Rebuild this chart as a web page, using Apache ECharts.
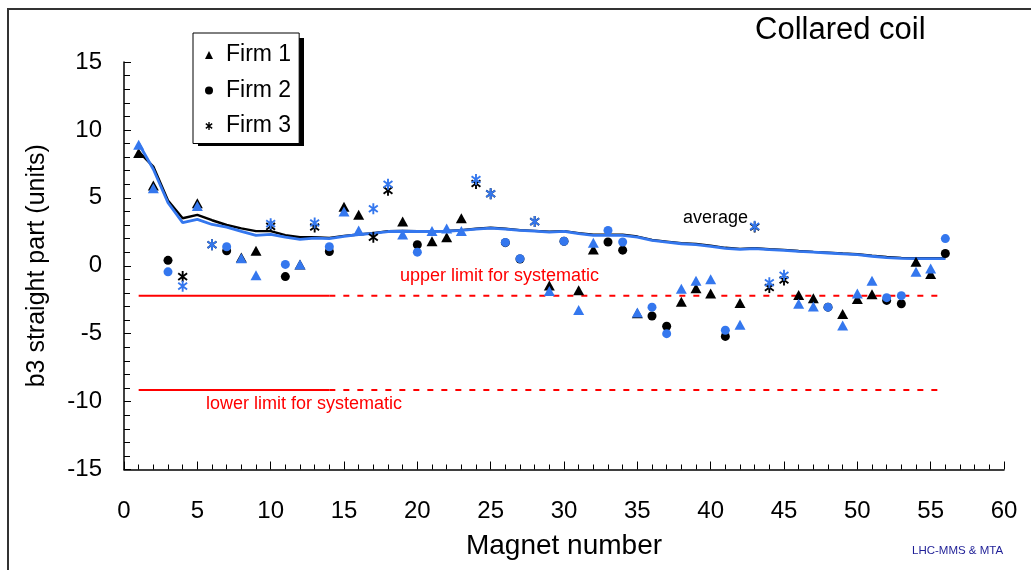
<!DOCTYPE html>
<html>
<head>
<meta charset="utf-8">
<style>
  html, body { margin: 0; padding: 0; background: #fff; }
  #chart { width: 1031px; height: 570px; }
</style>
<script src="https://cdn.jsdelivr.net/npm/echarts@6/dist/echarts.min.js"></script>
</head>
<body>
<div id="chart"></div>
<script>
// Magnet numbers 1..56 and the firm that built each one (1, 2 or 3)
const magnets = Array.from({ length: 56 }, (_, i) => i + 1);
const firmOf = [
  1, 1, 2, 3, 1, 3, 2, 1, 1, 3,
  2, 1, 3, 2, 1, 1, 3, 3, 1, 2,
  1, 1, 1, 3, 3, 2, 2, 3, 1, 2,
  1, 1, 2, 2, 1, 2, 2, 1, 1, 1,
  2, 1, 3, 3, 3, 1, 1, 2, 1, 1,
  1, 2, 2, 1, 1, 2
];

// b3 in the straight part (units), first measurement (black markers)
const b3Black = [
  8.3, 5.9, 0.4, -0.8, 4.6, 1.55, 1.1, 0.6, 1.1, 2.9,
  -0.8, 0.1, 2.85, 1.05, 4.35, 3.75, 2.1, 5.55, 3.25, 1.55,
  1.8, 2.1, 3.5, 6.05, 5.3, 1.7, 0.5, 3.25, -1.45, 1.8,
  -1.8, 1.2, 1.75, 1.15, -3.5, -3.7, -4.45, -2.65, -1.65, -2.05,
  -5.2, -2.75, 2.85, -1.6, -1.05, -2.15, -2.4, -3.05, -3.55, -2.45,
  -2.1, -2.55, -2.8, 0.3, -0.6, 0.9
];

// b3 in the straight part (units), second measurement (blue markers)
const b3Blue = [
  8.9, 5.7, -0.45, -1.5, 4.4, 1.55, 1.4, 0.55, -0.7, 3.1,
  0.1, 0.1, 3.15, 1.4, 4.0, 2.6, 4.2, 6.0, 2.3, 1.0,
  2.55, 2.75, 2.55, 6.35, 5.3, 1.72, 0.52, 3.25, -1.85, 1.8,
  -3.25, 1.7, 2.6, 1.75, -3.45, -3.05, -5.0, -1.7, -1.1, -1.0,
  -4.75, -4.35, 2.9, -1.25, -0.7, -2.8, -3.0, -3.05, -4.4, -2.05,
  -1.1, -2.35, -2.2, -0.45, -0.2, 2.0
];

// Running averages
const avgBlack = [
  8.4, 7.3, 4.8, 3.5, 3.75, 3.35, 3.0, 2.75, 2.55, 2.55,
  2.25, 2.1, 2.1, 2.05, 2.2, 2.3, 2.4, 2.55, 2.57, 2.55,
  2.55, 2.57, 2.62, 2.72, 2.8, 2.72, 2.62, 2.57, 2.5, 2.55,
  2.4, 2.28, 2.28, 2.28, 2.15, 1.9, 1.78, 1.66, 1.6, 1.48,
  1.32, 1.24, 1.3, 1.22, 1.17, 1.09, 1.02, 0.97, 0.9, 0.85,
  0.74, 0.64, 0.58, 0.55, 0.55, 0.55
];
const avgBlue = [
  9.0, 7.1, 4.64, 3.17, 3.41, 3.04, 2.85, 2.53, 2.24, 2.31,
  2.11, 1.94, 2.04, 1.99, 2.16, 2.3, 2.38, 2.52, 2.54, 2.52,
  2.52, 2.54, 2.6, 2.7, 2.77, 2.7, 2.6, 2.55, 2.48, 2.53,
  2.36, 2.24, 2.24, 2.24, 2.11, 1.87, 1.74, 1.62, 1.55, 1.43,
  1.28, 1.21, 1.26, 1.18, 1.13, 1.06, 1.0, 0.94, 0.88, 0.82,
  0.7, 0.6, 0.55, 0.52, 0.52, 0.52
];

// Systematic limits: value, start of the solid part, end of solid / start of dashed part, end
const upperLimit = -2.2;
const lowerLimit = -9.15;
const limitSpan = [1, 14, 56];

const firmNames = ['Firm 1', 'Firm 2', 'Firm 3'];
const xTicks = { min: 0, max: 60, step: 5 };
const yTicks = { min: -15, max: 15, step: 5 };

const BLACK = '#000000';
const BLUE = '#3477ee';
const RED = '#ff0000';
const FONT = '"Liberation Sans", Arial, sans-serif';

// Six-armed asterisk marker built from three bars
const asterisk = 'path://M-0.85,-5L0.85,-5L0.85,5L-0.85,5Z' +
  'M-4.51,-2.32L-3.49,-3.68L4.51,2.32L3.49,3.68Z' +
  'M-3.49,3.68L-4.51,2.32L3.49,-3.68L4.51,-2.32Z';
const firmSymbol = ['triangle', 'circle', asterisk];
const firmSize = [[11, 10], 9, [10, 11]];

function pointsFor(firm, values) {
  return magnets.filter((m, i) => firmOf[i] === firm).map(m => [m, values[m - 1]]);
}

const series = [];

// average lines (black below blue)
series.push({
  type: 'line', name: 'average', data: magnets.map((m, i) => [m, avgBlack[i]]),
  showSymbol: false, symbol: 'none', z: 2,
  lineStyle: { color: BLACK, width: 2.4 }, silent: true
});
series.push({
  type: 'line', name: 'average (blue)', data: magnets.map((m, i) => [m, avgBlue[i]]),
  showSymbol: false, symbol: 'none', z: 3,
  lineStyle: { color: BLUE, width: 2.8 }, silent: true
});

// systematic limit lines
[upperLimit, lowerLimit].forEach((v, k) => {
  series.push({
    type: 'line', name: 'limit solid ' + k, data: [[limitSpan[0], v], [limitSpan[1], v]],
    symbol: 'none', z: 2, silent: true,
    lineStyle: { color: RED, width: 2 }
  });
  series.push({
    type: 'line', name: 'limit dashed ' + k, data: [[limitSpan[1], v], [limitSpan[2], v]],
    symbol: 'none', z: 2, silent: true,
    lineStyle: { color: RED, width: 2, type: [6, 8] }
  });
});

// markers: black first, blue drawn on top
[1, 2, 3].forEach(f => {
  series.push({
    type: 'scatter', name: firmNames[f - 1], data: pointsFor(f, b3Black),
    symbol: firmSymbol[f - 1], symbolSize: firmSize[f - 1], z: 4,
    itemStyle: { color: BLACK, opacity: 1 }
  });
});
[1, 2, 3].forEach(f => {
  series.push({
    type: 'scatter', name: firmNames[f - 1] + ' (blue)', data: pointsFor(f, b3Blue),
    symbol: firmSymbol[f - 1], symbolSize: firmSize[f - 1], z: 5,
    itemStyle: { color: BLUE, opacity: 1 }
  });
});

const chart = echarts.init(document.getElementById('chart'), null, { renderer: 'canvas' });
chart.setOption({
  animation: false,
  backgroundColor: '#ffffff',
  textStyle: { fontFamily: FONT },
  grid: { left: 124, right: 27, top: 62, bottom: 100.5, containLabel: false },
  xAxis: {
    type: 'value', min: xTicks.min, max: xTicks.max, interval: xTicks.step,
    name: 'Magnet number', nameLocation: 'middle', nameGap: 63,
    nameTextStyle: { fontSize: 28, color: '#000', fontFamily: FONT },
    axisLine: { show: true, onZero: false, lineStyle: { color: '#000', width: 1.5 } },
    axisTick: { show: true, inside: true, length: 8, lineStyle: { color: '#000', width: 1 } },
    minorTick: { show: true, splitNumber: 5, length: 5, lineStyle: { color: '#000', width: 1 } },
    axisLabel: { fontSize: 24, color: '#000', margin: 30, fontFamily: FONT },
    splitLine: { show: false }
  },
  yAxis: {
    type: 'value', min: yTicks.min, max: yTicks.max, interval: yTicks.step,
    name: 'b3 straight part (units)', nameLocation: 'middle', nameGap: 74, nameRotate: 90,
    nameTextStyle: { fontSize: 25, color: '#000', fontFamily: FONT },
    axisLine: { show: true, onZero: false, lineStyle: { color: '#000', width: 1.5 } },
    axisTick: { show: true, inside: true, length: 7, lineStyle: { color: '#000', width: 1 } },
    minorTick: { show: true, splitNumber: 5, length: 6, lineStyle: { color: '#000', width: 1 } },
    axisLabel: { fontSize: 24, color: '#000', margin: 22, fontFamily: FONT },
    splitLine: { show: false }
  },
  legend: {
    orient: 'vertical', left: 193, top: 33, z: 10,
    data: firmNames,
    itemWidth: 8, itemHeight: 8, itemGap: 12.5,
    padding: [10.5, 8, 6, 12],
    backgroundColor: '#ffffff', borderColor: '#000', borderWidth: 1,
    textStyle: { fontSize: 23, color: '#000', fontFamily: FONT, padding: [0, 0, 0, 8] },
    selectedMode: false
  },
  graphic: [
    { type: 'rect', shape: { x: 8, y: 9, width: 1100, height: 700 }, silent: true, z: -10,
      style: { fill: 'none', stroke: '#333', lineWidth: 2 } },
    // drop shadow of the legend box
    { type: 'rect', shape: { x: 198, y: 38, width: 106, height: 108 }, silent: true, z: 1,
      style: { fill: '#000' } },
    { type: 'text', x: 755, y: 30, silent: true,
      style: { text: 'Collared coil', font: '31px ' + FONT, fill: '#000', textVerticalAlign: 'middle' } },
    { type: 'text', x: 683, y: 218.5, silent: true,
      style: { text: 'average', font: '18px ' + FONT, fill: '#000', textVerticalAlign: 'middle' } },
    { type: 'text', x: 400, y: 276, silent: true,
      style: { text: 'upper limit for systematic', font: '18px ' + FONT, fill: RED, textVerticalAlign: 'middle' } },
    { type: 'text', x: 206, y: 404, silent: true,
      style: { text: 'lower limit for systematic', font: '18px ' + FONT, fill: RED, textVerticalAlign: 'middle' } },
    { type: 'text', x: 912, y: 551, silent: true,
      style: { text: 'LHC-MMS & MTA', font: '11.5px ' + FONT, fill: '#1e1e96', textVerticalAlign: 'middle' } }
  ],
  series: series
});
</script>
</body>
</html>
